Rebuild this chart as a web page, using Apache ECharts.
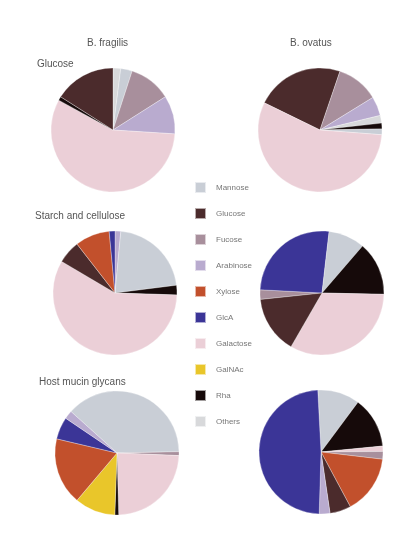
<!DOCTYPE html>
<html>
<head>
<meta charset="utf-8">
<script src="https://cdn.jsdelivr.net/npm/echarts@6/dist/echarts.min.js"></script>
<style>
  html, body { margin: 0; padding: 0; background: #fff; }
  #main { width: 401px; height: 534px; }
</style>
</head>
<body>
<div id="main"></div>
<script>
// categories shown in the legend
var categories = ['Mannose', 'Glucose', 'Fucose', 'Arabinose', 'Xylose', 'GlcA', 'Galactose', 'GalNAc', 'Rha', 'Others'];
var catColors = ['#c9ced6', '#4b2b2c', '#a88f9c', '#b9abcf', '#c2502c', '#3b3597', '#ebcfd7', '#e9c62a', '#160a0a', '#d8d9db'];

var columns = ['B. fragilis', 'B. ovatus'];
var rows = ['Glucose', 'Starch and cellulose', 'Host mucin glycans'];

// each pie: categories in drawing order (clockwise) and their shares (%)
var glucoseFragOrder = [9, 0, 2, 3, 6, 8, 1];
var glucoseFragValues = [2, 3, 11, 10, 57, 1, 16];
var glucoseOvatOrder = [1, 2, 3, 9, 8, 0, 6];
var glucoseOvatValues = [23, 11, 5, 2, 1.5, 1.5, 56];

var starchFragOrder = [3, 0, 8, 6, 1, 4, 5];
var starchFragValues = [1.5, 21.5, 2.5, 58, 6, 9, 1.5];
var starchOvatOrder = [2, 5, 0, 8, 6, 1];
var starchOvatValues = [2.5, 26, 9.5, 14, 33, 15];

var mucinFragOrder = [0, 2, 6, 8, 7, 4, 5, 3];
var mucinFragValues = [38, 1, 23.9, 1, 10.6, 17.5, 5.8, 2.2];
var mucinOvatOrder = [0, 8, 6, 2, 4, 1, 3, 5];
var mucinOvatValues = [11, 13.3, 1.4, 2, 15.3, 5.5, 2.8, 48.7];

var pies = [
    { order: glucoseFragOrder, values: glucoseFragValues, center: [113, 130], start: 90 },
    { order: glucoseOvatOrder, values: glucoseOvatValues, center: [320, 130], start: 154 },
    { order: starchFragOrder, values: starchFragValues, center: [115, 293], start: 90 },
    { order: starchOvatOrder, values: starchOvatValues, center: [322, 293], start: 186 },
    { order: mucinFragOrder, values: mucinFragValues, center: [117, 453], start: 138 },
    { order: mucinOvatOrder, values: mucinOvatValues, center: [321, 452], start: 93 }
];

var series = pies.map(function (p) {
    return {
        type: 'pie',
        center: p.center,
        radius: 62,
        startAngle: p.start,
        clockwise: true,
        label: { show: false },
        labelLine: { show: false },
        emphasis: { disabled: true },
        itemStyle: { borderColor: 'rgba(255,255,255,0.6)', borderWidth: 0.5 },
        data: p.order.map(function (c, i) {
            return { name: categories[c], value: p.values[i], itemStyle: { color: catColors[c] } };
        })
    };
});

var textStyle = { fontFamily: 'Liberation Sans', fontSize: 10, fontWeight: 'normal', color: '#555' };
var titles = [
    { text: columns[0], left: 82, top: 33, textStyle: textStyle },
    { text: columns[1], left: 285, top: 33, textStyle: textStyle },
    { text: rows[0], left: 32, top: 54, textStyle: textStyle },
    { text: rows[1], left: 30, top: 206, textStyle: textStyle },
    { text: rows[2], left: 34, top: 372, textStyle: textStyle }
];

var myChart = echarts.init(document.getElementById('main'));
myChart.setOption({
    animation: false,
    backgroundColor: '#fff',
    title: titles,
    legend: {
        data: categories,
        orient: 'vertical',
        left: 189,
        top: 176,
        icon: 'rect',
        itemWidth: 11,
        itemHeight: 11,
        itemGap: 13,
        selectedMode: false,
        textStyle: { fontFamily: 'Liberation Sans', fontSize: 8, color: '#777', padding: [0, 0, 0, 5] }
    },
    series: series
});
</script>
</body>
</html>
